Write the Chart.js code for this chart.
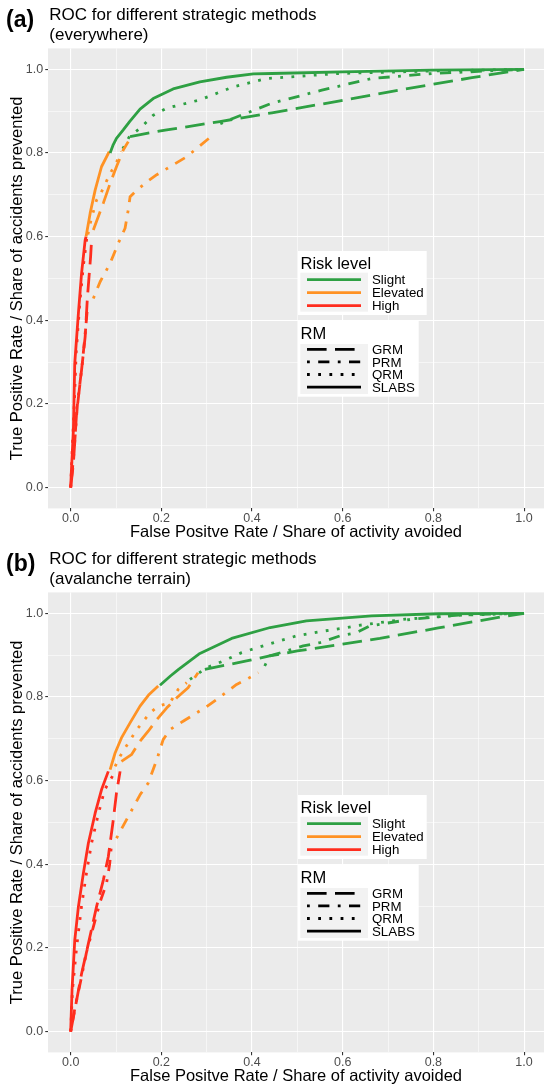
<!DOCTYPE html>
<html>
<head>
<meta charset="utf-8">
<script src="https://cdn.jsdelivr.net/npm/chart.js@4/dist/chart.umd.min.js"></script>
<style>
  body { margin: 0; background: #fff; }
  canvas { display: block; }
</style>
</head>
<body>
<canvas id="rocEverywhere" width="544" height="544"></canvas>
<canvas id="rocTerrain" width="544" height="544"></canvas>
<script>
// categories
const riskLevels = ["Slight", "Elevated", "High"];
const methods = ["GRM", "PRM", "QRM", "SLABS"];

// tick labels
const majorTicks = [0, 0.2, 0.4, 0.6, 0.8, 1.0];
const minorTicks = [0.1, 0.3, 0.5, 0.7, 0.9];

// (a) everywhere: [false positive rate, true positive rate]
const evSlabsHigh = [[0,0],[0.002,0.05],[0.006,0.137],[0.009,0.297],[0.017,0.416],[0.024,0.512],[0.032,0.592],[0.034,0.6]];
const evSlabsElevated = [[0.034,0.6],[0.043,0.656],[0.054,0.711],[0.068,0.767],[0.085,0.803]];
const evSlabsSlight = [[0.087,0.8],[0.094,0.82],[0.101,0.835],[0.116,0.855],[0.13,0.875],[0.153,0.905],[0.182,0.93],[0.226,0.953],[0.285,0.97],[0.344,0.981],[0.403,0.989],[0.444,0.99],[0.6,0.994],[0.797,0.998],[1,1]];

const evGrmHigh = [[0,0],[0.006,0.058],[0.013,0.177],[0.024,0.281],[0.032,0.361],[0.037,0.456],[0.044,0.552],[0.046,0.59]];
const evGrmElevated = [[0.05,0.616],[0.061,0.648],[0.072,0.68],[0.087,0.727],[0.101,0.767],[0.116,0.807],[0.127,0.827]];
const evGrmSlight = [[0.131,0.839],[0.168,0.847],[0.212,0.855],[0.329,0.875],[0.444,0.896],[0.591,0.924],[0.738,0.953],[0.885,0.98],[1,1]];

const evPrmHigh = [[0,0],[0.007,0.08],[0.015,0.2],[0.026,0.3],[0.033,0.38],[0.037,0.43]];
const evPrmElevated = [[0.05,0.452],[0.065,0.492],[0.087,0.536],[0.105,0.584],[0.12,0.62],[0.127,0.664],[0.131,0.695],[0.146,0.711],[0.173,0.735],[0.19,0.748],[0.256,0.791],[0.314,0.843]];
const evPrmSlight = [[0.33,0.87],[0.359,0.883],[0.444,0.919],[0.554,0.95],[0.664,0.978],[0.797,0.99],[1,1]];

const evQrmHigh = [[0,0],[0.003,0.08],[0.008,0.2],[0.012,0.32],[0.02,0.44],[0.028,0.53],[0.036,0.6]];
const evQrmElevated = [[0.038,0.605],[0.045,0.64],[0.057,0.687],[0.068,0.707],[0.087,0.751],[0.1,0.775],[0.112,0.803]];
const evQrmSlight = [[0.115,0.81],[0.13,0.84],[0.153,0.859],[0.182,0.89],[0.212,0.907],[0.285,0.927],[0.359,0.958],[0.432,0.978],[0.591,0.99],[0.8,0.996],[1,1]];

// (b) avalanche terrain
const atSlabsHigh = [[0,0],[0.003,0.1],[0.009,0.218],[0.017,0.298],[0.028,0.378],[0.039,0.45],[0.054,0.522],[0.068,0.578],[0.083,0.622]];
const atSlabsElevated = [[0.087,0.626],[0.098,0.666],[0.112,0.702],[0.131,0.738],[0.153,0.778],[0.173,0.806],[0.193,0.826]];
const atSlabsSlight = [[0.197,0.828],[0.22,0.85],[0.238,0.866],[0.285,0.904],[0.355,0.94],[0.44,0.966],[0.52,0.982],[0.664,0.994],[0.811,0.999],[1,1]];

const atGrmHigh = [[0,0],[0.013,0.074],[0.024,0.138],[0.039,0.21],[0.057,0.298],[0.072,0.362],[0.083,0.418],[0.094,0.506],[0.101,0.57],[0.109,0.622]];
const atGrmElevated = [[0.112,0.646],[0.134,0.662],[0.153,0.694],[0.171,0.718],[0.19,0.746],[0.212,0.774],[0.234,0.798],[0.259,0.822],[0.281,0.858]];
const atGrmSlight = [[0.296,0.866],[0.388,0.886],[0.439,0.898],[0.5,0.91],[0.587,0.924],[0.682,0.94],[0.811,0.965],[0.958,0.993],[1,1]];

const atPrmHigh = [[0,0],[0.01,0.06],[0.022,0.12],[0.035,0.19],[0.05,0.25],[0.065,0.31],[0.079,0.354],[0.086,0.4],[0.09,0.446]];
const atPrmElevated = [[0.101,0.462],[0.123,0.506],[0.153,0.566],[0.171,0.594],[0.19,0.65],[0.204,0.698],[0.219,0.722],[0.248,0.742],[0.296,0.774],[0.322,0.794],[0.366,0.83],[0.388,0.842],[0.414,0.858]];
const atPrmSlight = [[0.428,0.874],[0.439,0.898],[0.513,0.922],[0.55,0.93],[0.594,0.946],[0.631,0.954],[0.66,0.97],[0.753,0.986],[0.856,0.996],[1,1]];

const atQrmHigh = [[0,0],[0.004,0.1],[0.013,0.2],[0.024,0.3],[0.035,0.38],[0.046,0.45],[0.061,0.52],[0.075,0.578],[0.094,0.614]];
const atQrmElevated = [[0.098,0.634],[0.109,0.658],[0.12,0.678],[0.146,0.722],[0.175,0.762],[0.193,0.778],[0.219,0.786],[0.237,0.818],[0.256,0.834]];
const atQrmSlight = [[0.263,0.842],[0.3,0.87],[0.337,0.886],[0.377,0.906],[0.436,0.926],[0.498,0.946],[0.561,0.958],[0.609,0.966],[0.628,0.97],[0.738,0.986],[0.85,0.995],[1,1]];

// styles
const FONT = '"Liberation Sans", Arial, sans-serif';
const LW = 2.8;
const riskColors = { Slight: "#2ea043", Elevated: "#ff9224", High: "#ff2d1e" };
const methodDash = {
  GRM: [7 * LW, 3 * LW],
  PRM: [1 * LW, 3 * LW, 4 * LW, 3 * LW],
  QRM: [1 * LW, 3 * LW],
  SLABS: []
};

const everywhere = {
  GRM: { Slight: evGrmSlight, Elevated: evGrmElevated, High: evGrmHigh },
  PRM: { Slight: evPrmSlight, Elevated: evPrmElevated, High: evPrmHigh },
  QRM: { Slight: evQrmSlight, Elevated: evQrmElevated, High: evQrmHigh },
  SLABS: { Slight: evSlabsSlight, Elevated: evSlabsElevated, High: evSlabsHigh }
};
const terrain = {
  GRM: { Slight: atGrmSlight, Elevated: atGrmElevated, High: atGrmHigh },
  PRM: { Slight: atPrmSlight, Elevated: atPrmElevated, High: atPrmHigh },
  QRM: { Slight: atQrmSlight, Elevated: atQrmElevated, High: atQrmHigh },
  SLABS: { Slight: atSlabsSlight, Elevated: atSlabsElevated, High: atSlabsHigh }
};

function buildDatasets(panel) {
  const sets = [];
  methods.forEach(m => {
    riskLevels.forEach(lvl => {
      sets.push({
        label: m + " " + lvl,
        data: panel[m][lvl].map(p => ({ x: p[0], y: p[1] })),
        showLine: true,
        borderColor: riskColors[lvl],
        borderWidth: LW,
        borderDash: methodDash[m],
        borderCapStyle: "butt",
        borderJoinStyle: "round",
        pointRadius: 0,
        fill: false,
        tension: 0
      });
    });
  });
  return sets;
}

const allTicks = majorTicks.concat(minorTicks).sort((a, b) => a - b);
const isMajor = v => majorTicks.some(t => Math.abs(t - v) < 1e-9);

function axis(min, max, title, isX) {
  return {
    type: "linear",
    min: min,
    max: max,
    afterBuildTicks: s => { s.ticks = allTicks.map(v => ({ value: v })); },
    afterFit: s => { if (isX) s.height = 35.6; else s.width = 48; },
    border: { display: false },
    grid: {
      color: "#ffffff",
      lineWidth: c => (c.tick && isMajor(c.tick.value)) ? 1.1 : 0.55,
      tickColor: c => (c.tick && isMajor(c.tick.value)) ? "#333333" : "rgba(0,0,0,0)",
      tickLength: 2.75,
      tickWidth: 1.1
    },
    ticks: {
      autoSkip: false,
      maxRotation: 0,
      padding: isX ? 1.5 : 2,
      color: "#4d4d4d",
      font: { family: FONT, size: 12.5, lineHeight: 1 },
      callback: v => isMajor(v) ? v.toFixed(1) : ""
    },
    title: {
      display: true,
      text: title,
      color: "#000000",
      font: { family: FONT, size: 16.5, lineHeight: 1.2 },
      padding: isX ? { top: 0, bottom: 1.8 } : { top: 8, bottom: 0 }
    }
  };
}

// grey panel, title block and ggplot-style legend
const ggPanel = {
  id: "ggPanel",
  beforeDraw(chart) {
    const { ctx, chartArea: a } = chart;
    ctx.save();
    ctx.fillStyle = "#ebebeb";
    ctx.fillRect(a.left, a.top, a.right - a.left, a.bottom - a.top);
    ctx.restore();
  },
  afterDraw(chart, args, opts) {
    const { ctx, chartArea: a } = chart;
    ctx.save();
    ctx.fillStyle = "#000";
    ctx.textBaseline = "alphabetic";
    ctx.font = "bold 23px " + FONT;
    ctx.fillText(opts.tag, 6, 27);
    ctx.font = "17px " + FONT;
    opts.lines.forEach((t, i) => ctx.fillText(t, 49.3, 20 + i * 19.5));

    const x0 = a.left + 250, y0 = a.top + 202.6;
    // Risk level box
    ctx.fillStyle = "#fff";
    ctx.fillRect(x0, y0, 128.7, 64);
    ctx.fillStyle = "#f2f2f2";
    ctx.fillRect(x0 + 2.3, y0 + 21.7, 67.7, 39);
    ctx.fillStyle = "#000";
    ctx.font = "16.5px " + FONT;
    ctx.fillText("Risk level", x0 + 2.5, y0 + 18.3);
    ctx.font = "13.3px " + FONT;
    riskLevels.forEach((lvl, i) => {
      const y = y0 + 28.7 + i * 13;
      ctx.strokeStyle = riskColors[lvl];
      ctx.lineWidth = 2.8;
      ctx.setLineDash([]);
      ctx.beginPath(); ctx.moveTo(x0 + 9, y); ctx.lineTo(x0 + 63, y); ctx.stroke();
      ctx.textBaseline = "middle";
      ctx.fillText(lvl, x0 + 74, y + 1);
    });
    // RM box
    const y1 = y0 + 70;
    ctx.fillStyle = "#fff";
    ctx.fillRect(x0, y1, 120.7, 75.7);
    ctx.fillStyle = "#f2f2f2";
    ctx.fillRect(x0 + 2.3, y1 + 23, 67.7, 50);
    ctx.fillStyle = "#000";
    ctx.textBaseline = "alphabetic";
    ctx.font = "16.5px " + FONT;
    ctx.fillText("RM", x0 + 2.5, y1 + 18.3);
    ctx.font = "13.3px " + FONT;
    methods.forEach((m, i) => {
      const y = y1 + 28.3 + i * 12.6;
      ctx.strokeStyle = "#000";
      ctx.lineWidth = 2.8;
      ctx.setLineDash(methodDash[m].map(d => d * 2.8 / LW));
      ctx.beginPath(); ctx.moveTo(x0 + 9, y); ctx.lineTo(x0 + 63, y); ctx.stroke();
      ctx.textBaseline = "middle";
      ctx.fillText(m, x0 + 74, y + 1);
    });
    ctx.restore();
  }
};

function makeChart(id, panel, tag, lines) {
  return new Chart(document.getElementById(id), {
    type: "scatter",
    data: { datasets: buildDatasets(panel) },
    plugins: [ggPanel],
    options: {
      responsive: false,
      animation: false,
      layout: { padding: { top: 48.4, left: 0, right: 0, bottom: 0 } },
      plugins: {
        legend: { display: false },
        tooltip: { enabled: false },
        ggPanel: { tag: tag, lines: lines }
      },
      scales: {
        x: axis(-0.05, 1.044, "False Positve Rate / Share of activity avoided", true),
        y: axis(-0.05, 1.05, "True Positive Rate / Share of accidents prevented", false)
      }
    }
  });
}

makeChart("rocEverywhere", everywhere, "(a)", ["ROC for different strategic methods", "(everywhere)"]);
makeChart("rocTerrain", terrain, "(b)", ["ROC for different strategic methods", "(avalanche terrain)"]);
</script>
</body>
</html>
